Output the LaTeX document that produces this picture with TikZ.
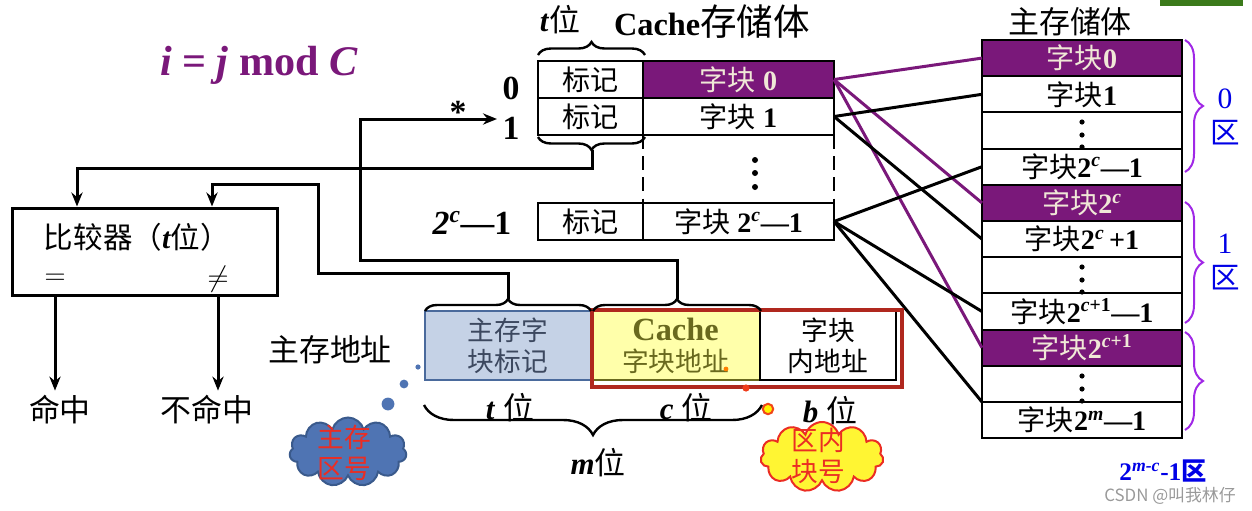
\documentclass[tikz,border=0pt]{standalone}
\usepackage{fontspec}
\setmainfont{Liberation Serif}
\newfontfamily\cjk{Noto Sans CJK SC}
\usetikzlibrary{arrows.meta, positioning, decorations.pathreplacing, shapes.symbols}

\definecolor{blockpurple}{RGB}{122,24,122}
\definecolor{bracepurple}{RGB}{160,40,230}
\definecolor{zoneblue}{RGB}{0,0,230}
\definecolor{tagblue}{RGB}{197,210,230}
\definecolor{tagedge}{RGB}{74,106,156}
\definecolor{tagtext}{RGB}{60,72,95}
\definecolor{idxyellow}{RGB}{255,255,170}
\definecolor{idxolive}{RGB}{105,105,30}
\definecolor{boxred}{RGB}{176,40,30}
\definecolor{cloudblue}{RGB}{79,116,179}
\definecolor{cloudedge}{RGB}{58,90,140}
\definecolor{cloudred}{RGB}{235,45,35}
\definecolor{cream}{RGB}{240,232,215}
\definecolor{slidegreen}{RGB}{59,122,26}

\newcommand{\zh}[1]{{\cjk #1}}
\newcommand{\bit}[1]{\textbf{\textit{#1}}}
\newcommand{\tc}{\textsuperscript{\textit{c}}}

\begin{document}
\begin{tikzpicture}[x=0.25mm, y=-0.25mm,
    >={Stealth[length=3.5mm,width=2.8mm]},
    wire/.style={line width=0.75mm},
    cell/.style={rectangle,draw,line width=0.5mm,inner sep=0pt,outer sep=0pt,
                 minimum height=9.25mm,font=\fontsize{20}{22}\selectfont},
    tagcell/.style={cell,minimum width=26.25mm},
    blockcell/.style={cell,minimum width=47.75mm},
    memcell/.style={cell,minimum width=50mm,minimum height=9.05mm},
    hot/.style={fill=blockpurple,text=cream},
    bracket/.style={decorate,decoration={brace,amplitude=#1},line width=0.6mm},
    zonebrace/.style={decorate,decoration={brace,amplitude=4.5mm},line width=0.5mm,draw=bracepurple},
    zone/.style={text=zoneblue,align=center,font=\fontsize{21}{25}\selectfont},
    addr/.style={rectangle,draw,line width=0.4mm,inner sep=0pt,outer sep=0pt,
                 minimum height=17.25mm,align=center,font=\fontsize{19}{22}\selectfont},
    caption/.style={font=\fontsize{22}{22}\selectfont},
    rowno/.style={font=\fontsize{24}{24}\selectfont\bfseries},
    bubble/.style={cloud,cloud puffs=11,cloud ignores aspect,draw,line width=0.5mm,inner sep=0pt},
    bubbletext/.style={align=center,text=cloudred,font=\fontsize{19}{22}\selectfont},
    hotlink/.style={line width=0.75mm,blockpurple}]

    \useasboundingbox (0,0) rectangle (1252,511);

    % slide decoration
    \fill[slidegreen] (1160,0) rectangle (1243,6);

    % mapping rule
    \node[text=blockpurple, font=\fontsize{30}{30}\selectfont\bfseries] (rule)
          at (259,65) {\textit{i} = \textit{j} mod \textit{C}};

    % Cache
    \node[font=\fontsize{23}{23}\selectfont] (cachetitle) at (712,22)
          {\textbf{Cache}{\cjk\fontsize{26}{26}\selectfont 存储体}};
    \node[caption] (tbits) at (560,20) {\bit{t}\zh{位}};

    \node[tagcell] (tag0) at (590.5,79.5) {\zh{标记}};
    \node[blockcell,hot,right=0pt of tag0] (blk0) {\zh{字块} \textbf{0}};
    \node[tagcell,below=0pt of tag0] (tag1) {\zh{标记}};
    \node[blockcell,right=0pt of tag1] (blk1) {\zh{字块} \textbf{1}};
    \node[tagcell] (tagn) at (590.5,221.5) {\zh{标记}};
    \node[blockcell,right=0pt of tagn] (blkn) {\zh{字块} \textbf{2\tc—1}};

    \draw[line width=0.5mm,dash pattern=on 3.5mm off 1.8mm] (blk1.south west) -- (blkn.north west);
    \draw[line width=0.5mm,dash pattern=on 3.5mm off 1.8mm] (blk1.south east) -- (blkn.north east);
    \fill (755,160) circle (0.75mm) (755,173) circle (0.75mm) (755,187) circle (0.75mm);

    \draw[bracket=3.25mm] (538,55) -- (645,55);
    \draw[bracket=3.25mm] (645,137) -- (538,137);

    \node[rowno] (row0) at (511,88) {0};
    \node[rowno] (row1) at (511,128) {1};
    \node[rowno] (rown) at (472,223) {\textit{2}\tc—1};
    \node[rowno] (star) at (458,112) {*};

    % main memory
    \node[font=\fontsize{22}{22}\selectfont] (memtitle) at (1070,22) {\zh{主存储体}};

    \node[memcell,hot] (m0) at (1082,58.1) {\zh{字块}\textbf{0}};
    \node[memcell,below=0pt of m0] (m1) {\zh{字块}\textbf{1}};
    \node[memcell,below=0pt of m1] (m2) {};
    \node[memcell,below=0pt of m2] (m3) {\zh{字块}\textbf{2\tc—1}};
    \node[memcell,hot,below=0pt of m3] (m4) {\zh{字块}\textbf{2\tc}};
    \node[memcell,below=0pt of m4] (m5) {\zh{字块}\textbf{2\tc\,+1}};
    \node[memcell,below=0pt of m5] (m6) {};
    \node[memcell,below=0pt of m6] (m7) {\zh{字块}\textbf{2\textsuperscript{\textit{c}+1}—1}};
    \node[memcell,hot,below=0pt of m7] (m8) {\zh{字块}\textbf{2\textsuperscript{\textit{c}+1}}};
    \node[memcell,below=0pt of m8] (m9) {};
    \node[memcell,below=0pt of m9] (m10) {\zh{字块}\textbf{2\textsuperscript{\textit{m}}—1}};

    \fill (1082,122) circle (0.65mm) (1082,135) circle (0.65mm) (1082,147) circle (0.65mm);
    \fill (1082,267) circle (0.65mm) (1082,280) circle (0.65mm) (1082,292) circle (0.65mm);
    \fill (1082,376) circle (0.65mm) (1082,389) circle (0.65mm) (1082,401) circle (0.65mm);

    \draw[zonebrace] (1185,40) -- (1185,172);
    \draw[zonebrace] (1185,202) -- (1185,323);
    \draw[zonebrace] (1185,332) -- (1185,430);

    \node[zone] (zone0) at (1225,117) {0\\\zh{区}};
    \node[zone] (zone1) at (1225,262) {1\\\zh{区}};
    \node[text=zoneblue, font=\fontsize{18}{18}\selectfont\bfseries] (zonelast)
          at (1163,471) {2\textsuperscript{\textit{m-c}}-1\zh{区}};

    % cache block -> memory blocks
    \draw[hotlink] (blk0.east) -- (m0.west);
    \draw[hotlink] (blk0.east) -- (m4.west);
    \draw[hotlink] (blk0.east) -- (m8.west);
    \draw[wire] (blk1.east) -- (m1.west);
    \draw[wire] (blk1.east) -- (m5.west);
    \draw[wire] (blkn.east) -- (m3.west);
    \draw[wire] (blkn.east) -- (m7.west);
    \draw[wire] (blkn.east) -- (m10.north west);

    % main memory address
    \node[caption] (addrlabel) at (330,350) {\zh{主存地址}};
    \node[addr,fill=tagblue,draw=tagedge,text=tagtext,minimum width=41.5mm] (ftag)
          at (508,345.5) {\zh{主存字}\\\zh{块标记}};
    \node[addr,fill=idxyellow,draw=idxolive,text=idxolive,minimum width=42.25mm,right=0pt of ftag] (fidx)
          {{\fontsize{23}{20}\selectfont\textbf{Cache}}\\\zh{字块地址}};
    \node[addr,minimum width=34mm,right=0pt of fidx] (foff) {\zh{字块}\\\zh{内地址}};
    \draw[line width=1.1mm,boxred] (592,310) rectangle (902,387);

    \draw[bracket=3mm] (425,311) -- (591,311);
    \draw[bracket=3mm] (593,311) -- (761,311);
    \draw[bracket=7.5mm] (762,405) -- (424,405);

    \node[caption] (tlen) at (510,408) {\bit{t} \zh{位}};
    \node[caption] (clen) at (686,408) {\bit{c} \zh{位}};
    \node[caption] (blen) at (830,411) {\bit{b} \zh{位}};
    \node[caption] (mlen) at (598,463) {\bit{m}\zh{位}};

    % notes
    \node[bubble,fill=cloudblue,draw=cloudedge,minimum width=29.25mm,minimum height=17.25mm]
          (zonenote) at (348,452) {};
    \node[bubbletext] (zonetext) at (344,453) {\zh{主存}\\\zh{区号}};
    \fill[cloudblue] (418,367) circle (0.65mm) (404,384) circle (1.1mm) (388,404) circle (1.6mm);
    \node[bubble,fill=yellow!80!white,draw=cloudred,minimum width=30.75mm,minimum height=17.5mm]
          (blocknote) at (822,457) {};
    \node[bubbletext] (blocktext) at (818,456) {\zh{区内}\\\zh{块号}};
    \fill[orange] (726,369) circle (0.6mm);
    \fill[cloudred!80!orange] (746,388) circle (0.9mm);
    \filldraw[fill=yellow,draw=cloudred!70!orange,line width=0.5mm] (768,409) circle (1.3mm);

    % comparator
    \node[draw,wire,minimum width=66mm,minimum height=21.75mm] (cmp) at (145,251.5) {};
    \node[font=\fontsize{21}{21}\selectfont] (cmptext) at (137,237) {\zh{比较器（}\bit{t}\zh{位）}};
    \node[font=\fontsize{20}{20}\selectfont] (eq) at (55,279) {$=$};
    \node[font=\fontsize{20}{20}\selectfont] (neq) at (218,279) {$\neq$};
    \node[caption] (hit) at (60,410) {\zh{命中}};
    \node[caption] (miss) at (207,410) {\zh{不命中}};
    \draw[wire,->] (eq |- cmp.south) -- (eq |- hit.north);
    \draw[wire,->] (neq |- cmp.south) -- (neq |- miss.north);

    % tag from cache
    \coordinate (gtip) at (592,150);
    \coordinate (gturn) at (77,168);
    \draw[wire,->] (gtip) |- (gturn) -- (gturn |- cmp.north);

    % tag from address
    \coordinate (ttip) at (508,299);
    \coordinate (tbend) at (318,273);
    \coordinate (tturn) at (212,184);
    \draw[wire,->] (ttip) |- (tbend) |- (tturn) -- (tturn |- cmp.north);

    % cache row select
    \coordinate (ctip) at (677,299);
    \coordinate (cbend) at (360,260);
    \coordinate (rowsel) at (497,119);
    \draw[wire,->] (ctip) |- (cbend) |- (rowsel);

    \node[text=gray!80, font=\cjk\fontsize{12}{12}\selectfont] (mark) at (1170,496) {CSDN @叫我林仔};
\end{tikzpicture}
\end{document}
